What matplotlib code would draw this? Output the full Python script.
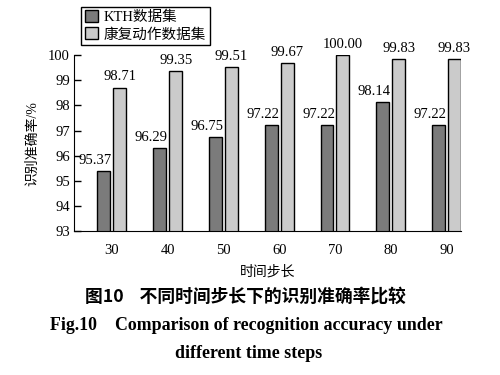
import numpy as np
import matplotlib
matplotlib.use('Agg')
from matplotlib import pyplot as plt

steps = [30, 40, 50, 60, 70, 80, 90]
kth = [95.37, 96.29, 96.75, 97.22, 97.22, 98.14, 97.22]
rehab = [98.71, 99.35, 99.51, 99.67, 100.00, 99.83, 99.83]
series_names = ['KTH数据集', '康复动作数据集']
x_label = '时间步长'
y_label = '识别准确率/%'
cap_cn = '图10    不同时间步长下的识别准确率比较'
cap_en1 = 'Fig.10    Comparison of recognition accuracy under'
cap_en2 = 'different time steps'


def main():
  matplotlib.rc('font', family=['Liberation Serif', 'Noto Sans CJK SC'], size=10.5)

  fig = plt.figure(figsize=(5, 3.75), dpi=100)
  ax = fig.add_axes([0.148, 0.384, 0.774, 0.469])

  x = np.array(steps, dtype=float)
  w = 2.33
  off = 1.43
  b1 = ax.bar(x - off, kth, width=w, color='#7b7b7b', edgecolor='black',
              linewidth=1.0, label=series_names[0])
  b2 = ax.bar(x + off, rehab, width=w, color='#cbcbcb', edgecolor='black',
              linewidth=1.0, label=series_names[1])

  for xi, v in zip(x, kth):
    ax.annotate('{:.2f}'.format(v), (xi - off + w / 2, v), xytext=(1, 3),
                textcoords='offset points', ha='right', va='bottom', fontsize=10.5)
  for xi, v in zip(x, rehab):
    ax.annotate('{:.2f}'.format(v), (xi + off, v), xytext=(0, 3),
                textcoords='offset points', ha='center', va='bottom', fontsize=10.5)

  ax.set_ylim(93, 100)
  ax.set_xlim(23.2, 92.6)
  ax.set_yticks(range(93, 101))
  ax.set_xticks(steps)
  ax.spines['top'].set_visible(False)
  ax.spines['right'].set_visible(False)
  ax.tick_params(axis='y', direction='in', length=5, width=1, pad=3)
  ax.tick_params(axis='x', length=0, pad=9)
  ax.set_xlabel(x_label, fontsize=10, labelpad=6)
  ax.set_ylabel(y_label, fontsize=10, labelpad=6)

  fig.legend(handles=[b1, b2], loc='lower left', bbox_to_anchor=(0.162, 0.88),
             fancybox=False, edgecolor='black', framealpha=1, fontsize=10.5,
             handlelength=0.9, handleheight=0.9, handletextpad=0.4,
             borderpad=0.25, labelspacing=0.2, borderaxespad=0)
  leg = fig.legends[0]
  leg.get_frame().set_linewidth(1.0)

  fig.text(0.49, 0.208, cap_cn, ha='center', va='center', fontsize=12.8,
           fontweight='bold', family=['Noto Sans CJK SC', 'Liberation Serif'])
  fig.text(0.492, 0.133, cap_en1, ha='center', va='center', fontsize=12.9,
           fontweight='bold', family='Liberation Serif')
  fig.text(0.497, 0.058, cap_en2, ha='center', va='center', fontsize=12.9,
           fontweight='bold', family='Liberation Serif')

  fig.savefig('out.png', dpi=100)


if __name__ == '__main__':
  main()
